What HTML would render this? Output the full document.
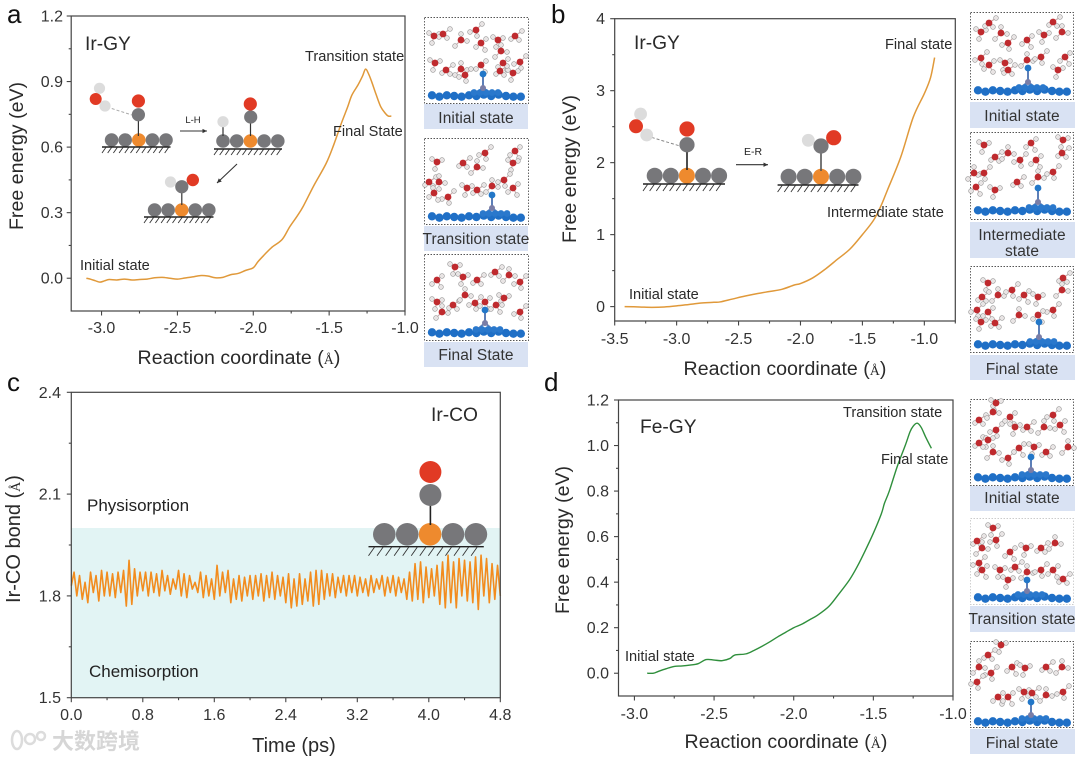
<!DOCTYPE html>
<html lang="en">
<head>
<meta charset="utf-8">
<title>Free energy profiles</title>
<style>
html,body{margin:0;padding:0;background:#fff;width:1080px;height:760px;overflow:hidden}
svg{display:block;filter:blur(.35px)}
text{font-family:"Liberation Sans","Noto Sans CJK SC",sans-serif;fill:#222}
.tick{font-size:16px;fill:#333}
.axt{font-size:19.6px;fill:#2a2a2a}
.ann{font-size:14.6px;fill:#2a2a2a}
.ttl{font-size:19.2px;fill:#2a2a2a}
.plab{font-size:26px;fill:#111}
.chip{font-size:15.5px;fill:#333;text-anchor:middle;letter-spacing:.1px}
.ser{font-family:"Liberation Serif",serif;font-size:14px}
</style>
</head>
<body>
<svg id="fig" xmlns="http://www.w3.org/2000/svg" width="1080" height="760" viewBox="0 0 1080 760">
  <rect id="cBand" fill="#e2f4f4"/>
  <g id="marks"></g>
  <g id="art"></g>
  <g id="chips"></g>

  <text class="plab" x="7" y="23">a</text>
  <text class="plab" x="551" y="23">b</text>
  <text class="plab" x="7" y="391">c</text>
  <text class="plab" x="544" y="391">d</text>

  <text class="ttl" x="85" y="50">Ir-GY</text>
  <text class="ann" x="305" y="61">Transition state</text>
  <text class="ann" x="333" y="136">Final State</text>
  <text class="ann" x="80" y="270">Initial state</text>
  <text x="193" y="123" font-size="9.5" text-anchor="middle">L-H</text>
  <text class="axt" x="239" y="364" text-anchor="middle">Reaction coordinate (<tspan class="ser">Å</tspan>)</text>
  <text class="axt" transform="translate(23,156) rotate(-90)" text-anchor="middle">Free energy (eV)</text>

  <text class="ttl" x="634" y="49">Ir-GY</text>
  <text class="ann" x="885" y="49">Final state</text>
  <text class="ann" x="827" y="217">Intermediate state</text>
  <text class="ann" x="629" y="299">Initial state</text>
  <text x="753" y="155" font-size="10.5" text-anchor="middle">E-R</text>
  <text class="axt" x="785" y="375" text-anchor="middle">Reaction coordinate (<tspan class="ser">Å</tspan>)</text>
  <text class="axt" transform="translate(576,169) rotate(-90)" text-anchor="middle">Free energy (eV)</text>

  <text class="ttl" x="431" y="421">Ir-CO</text>
  <text x="87" y="511" font-size="17" fill="#2a2a2a">Physisorption</text>
  <text x="89" y="677" font-size="17" fill="#2a2a2a">Chemisorption</text>
  <text class="axt" x="294" y="752" text-anchor="middle" style="font-size:20px">Time (ps)</text>
  <text class="axt" style="font-size:20px" transform="translate(20,539) rotate(-90)" text-anchor="middle">Ir-CO bond (<tspan class="ser">Å</tspan>)</text>

  <text class="ttl" x="640" y="433">Fe-GY</text>
  <text class="ann" x="843" y="417">Transition state</text>
  <text class="ann" x="881" y="464">Final state</text>
  <text class="ann" x="625" y="661">Initial state</text>
  <text class="axt" x="786" y="748" text-anchor="middle">Reaction coordinate (<tspan class="ser">Å</tspan>)</text>
  <text class="axt" transform="translate(569,540) rotate(-90)" text-anchor="middle">Free energy (eV)</text>

  <g>
    <ellipse cx="17" cy="740" rx="5" ry="9" fill="none" stroke="#dcdcdc" stroke-width="2.5"/>
    <circle cx="30" cy="739" r="5" fill="none" stroke="#dcdcdc" stroke-width="2.5"/>
    <circle cx="41" cy="736" r="4" fill="none" stroke="#dcdcdc" stroke-width="2.5"/>
    <text x="52" y="749" style="font-family:'Noto Sans CJK SC',sans-serif;font-size:22px;font-weight:700;fill:#d6d6d6">大数跨境</text>
  </g>
</svg>

<script>
/* ---------- chart data ---------- */
const aEnergyX = [-3.10,-3.07,-3.04,-3.01,-2.98,-2.95,-2.90,-2.85,-2.80,-2.75,-2.70,-2.65,-2.60,-2.55,-2.50,-2.45,-2.40,-2.35,-2.30,-2.25,-2.20,-2.15,-2.10,-2.05,-2.00,-1.97,-1.93,-1.88,-1.81,-1.76,-1.71,-1.67,-1.60,-1.52,-1.47,-1.42,-1.38,-1.35,-1.31,-1.28,-1.26,-1.24,-1.22,-1.19,-1.16,-1.13,-1.11,-1.09];
const aEnergyY = [0.00,-0.005,-0.012,-0.018,-0.012,-0.006,-0.008,-0.004,-0.008,-0.006,-0.004,0.002,0.004,0.000,-0.004,0.001,0.006,0.012,0.010,0.002,0.004,0.016,0.022,0.036,0.048,0.075,0.105,0.140,0.177,0.235,0.285,0.330,0.425,0.525,0.610,0.708,0.780,0.838,0.884,0.925,0.957,0.935,0.900,0.840,0.785,0.755,0.742,0.742];
const aXTickLabels = ['-3.0','-2.5','-2.0','-1.5','-1.0'];
const aXMinor = [-2.75,-2.25,-1.75,-1.25];
const aYTickLabels = ['0.0','0.3','0.6','0.9','1.2'];
const aYMinor = [0.15,0.45,0.75,1.05];

const bEnergyX = [-3.42,-3.30,-3.20,-3.10,-3.00,-2.90,-2.80,-2.70,-2.65,-2.55,-2.45,-2.35,-2.25,-2.15,-2.05,-2.00,-1.90,-1.80,-1.70,-1.60,-1.50,-1.41,-1.35,-1.30,-1.19,-1.09,-1.00,-0.95,-0.917];
const bEnergyY = [0.00,-0.005,-0.01,-0.005,0.01,0.03,0.05,0.06,0.065,0.105,0.145,0.18,0.21,0.24,0.30,0.32,0.40,0.52,0.66,0.80,1.00,1.20,1.40,1.61,2.08,2.63,2.96,3.18,3.46];
const bXTickLabels = ['-3.5','-3.0','-2.5','-2.0','-1.5','-1.0'];
const bXMinor = [-3.25,-2.75,-2.25,-1.75,-1.25,-0.75];
const bYTickLabels = ['0','1','2','3','4'];
const bYMinor = [0.5,1.5,2.5,3.5];

const cBondLength = [
1.83,1.87,1.80,1.86,1.79,1.84,1.78,1.87,1.81,1.86,1.785,1.875,1.80,
1.87,1.80,1.865,1.795,1.87,1.81,1.875,1.77,1.905,1.775,1.88,1.80,1.87,
1.815,1.87,1.80,1.87,1.81,1.865,1.80,1.875,1.815,1.86,1.805,1.85,1.82,
1.875,1.80,1.865,1.795,1.86,1.82,1.84,1.81,1.87,1.795,1.86,1.80,1.85,
1.79,1.89,1.80,1.87,1.81,1.875,1.78,1.85,1.79,1.86,1.785,1.855,1.80,
1.86,1.79,1.86,1.80,1.865,1.785,1.86,1.795,1.87,1.79,1.86,1.80,1.855,
1.78,1.865,1.765,1.85,1.77,1.865,1.775,1.85,1.785,1.87,1.77,1.875,1.775,
1.875,1.79,1.865,1.80,1.865,1.795,1.855,1.81,1.86,1.80,1.86,1.81,1.86,
1.80,1.855,1.81,1.85,1.80,1.86,1.81,1.85,1.82,1.86,1.80,1.855,1.81,
1.86,1.80,1.855,1.81,1.85,1.79,1.87,1.785,1.895,1.79,1.90,1.78,1.885,
1.795,1.88,1.80,1.89,1.775,1.90,1.765,1.92,1.78,1.90,1.765,1.91,1.80,
1.905,1.785,1.90,1.78,1.915,1.76,1.92,1.80,1.91,1.78,1.895,1.79,1.89,1.80];
const cTotalTime = 4.8;
const cBandTop = 2.0;
const cXTickLabels = ['0.0','0.8','1.6','2.4','3.2','4.0','4.8'];
const cXMinor = [0.4,1.2,2.0,2.8,3.6,4.4];
const cYTickLabels = ['1.5','1.8','2.1','2.4'];
const cYMinor = [1.65,1.95,2.25];

const dEnergyX = [-2.92,-2.88,-2.85,-2.80,-2.75,-2.70,-2.65,-2.60,-2.55,-2.50,-2.45,-2.40,-2.37,-2.30,-2.25,-2.20,-2.15,-2.10,-2.05,-2.00,-1.95,-1.90,-1.85,-1.78,-1.72,-1.65,-1.60,-1.55,-1.50,-1.45,-1.43,-1.40,-1.35,-1.30,-1.27,-1.25,-1.225,-1.20,-1.17,-1.136];
const dEnergyY = [0.00,0.00,0.008,0.02,0.03,0.032,0.036,0.042,0.06,0.058,0.055,0.065,0.08,0.085,0.10,0.118,0.138,0.16,0.18,0.20,0.215,0.235,0.255,0.293,0.345,0.41,0.47,0.54,0.615,0.70,0.747,0.80,0.908,1.00,1.06,1.085,1.098,1.08,1.035,0.988];
const dXTickLabels = ['-3.0','-2.5','-2.0','-1.5','-1.0'];
const dXMinor = [-2.75,-2.25,-1.75,-1.25];
const dYTickLabels = ['0.0','0.2','0.4','0.6','0.8','1.0','1.2'];
const dYMinor = [0.1,0.3,0.5,0.7,0.9,1.1];

/* ---------- helpers ---------- */
const NS = 'http://www.w3.org/2000/svg';
const marks = document.getElementById('marks');
const art = document.getElementById('art');
const chips = document.getElementById('chips');
function el(tag, parent){ const e = document.createElementNS(NS, tag); parent.appendChild(e); return e; }
function scale(d0,d1,r0,r1){ return v => r0 + (v-d0)*(r1-r0)/(d1-d0); }

function drawAxes(id, sx, sy, box, xLabels, xMinor, yLabels, yMinor, xBase, yRight){
  const g = el('g', marks);
  
  
  const f = el('rect', g);
  
  
  f.setAttribute('x', box.l); f.setAttribute('y', box.t);
  f.setAttribute('width', box.r-box.l); f.setAttribute('height', box.b-box.t);
  f.setAttribute('fill', 'none'); f.setAttribute('stroke', '#444'); f.setAttribute('stroke-width', '1.2');
  function tick(x1,y1,x2,y2,name){
    const t = el('line', g);
    
    
    t.setAttribute('x1',x1); t.setAttribute('y1',y1); t.setAttribute('x2',x2); t.setAttribute('y2',y2);
    t.setAttribute('stroke','#444'); t.setAttribute('stroke-width','1.1');
  }
  xLabels.forEach(s => {
    const x = sx(parseFloat(s));
    tick(x, box.b, x, box.b+4.5, id + '-x-tick');
    const t = el('text', g);
    
    
    t.setAttribute('class','tick'); t.setAttribute('x',x); t.setAttribute('y',xBase); t.setAttribute('text-anchor','middle');
    t.textContent = s;
  });
  xMinor.forEach(v => tick(sx(v), box.b, sx(v), box.b+2.5, id + '-x-minor-tick'));
  yLabels.forEach(s => {
    const y = sy(parseFloat(s));
    tick(box.l, y, box.l-4.5, y, id + '-y-tick');
    const t = el('text', g);
    
    
    t.setAttribute('class','tick'); t.setAttribute('x',yRight); t.setAttribute('y',y+5.5); t.setAttribute('text-anchor','end');
    t.textContent = s;
  });
  yMinor.forEach(v => tick(box.l, sy(v), box.l-2.5, sy(v), id + '-y-minor-tick'));
}

function drawLine(id, xs, ys, sx, sy, color, width){
  const p = el('polyline', marks);
  
  
  p.setAttribute('points', xs.map((x,i) => sx(x).toFixed(2)+','+sy(ys[i]).toFixed(2)).join(' '));
  p.setAttribute('fill','none'); p.setAttribute('stroke',color); p.setAttribute('stroke-width',width);
  p.setAttribute('stroke-linejoin','round');
}

/* smooth curve through the data nodes */
function drawCurve(id, xs, ys, sx, sy, color, width){
  const P = xs.map((x,i) => [sx(x), sy(ys[i])]);
  let d = 'M' + P[0][0].toFixed(2) + ' ' + P[0][1].toFixed(2);
  for(let i=0;i<P.length-1;i++){
    const a = P[Math.max(i-1,0)], b = P[i], c = P[i+1], e = P[Math.min(i+2,P.length-1)];
    d += 'C' + (b[0]+(c[0]-a[0])/6).toFixed(2) + ' ' + (b[1]+(c[1]-a[1])/6).toFixed(2) + ' '
       + (c[0]-(e[0]-b[0])/6).toFixed(2) + ' ' + (c[1]-(e[1]-b[1])/6).toFixed(2) + ' '
       + c[0].toFixed(2) + ' ' + c[1].toFixed(2);
  }
  const p = el('path', marks);
  
  
  p.setAttribute('d', d);
  p.setAttribute('fill','none'); p.setAttribute('stroke',color); p.setAttribute('stroke-width',width);
}

/* ---------- panels ---------- */
const boxA = {l:71.2,r:405,t:16,b:311};
const axA = scale(-3.2,-1.0,boxA.l,boxA.r), ayA = scale(-0.15,1.2,boxA.b,boxA.t);
const boxB = {l:614.7,r:955.3,t:18.7,b:321};
const axB = scale(-3.5,-0.75,boxB.l,boxB.r), ayB = scale(-0.2,4,boxB.b,boxB.t);
const boxC = {l:71.3,r:500.3,t:392.3,b:697.7};
const axC = scale(0,cTotalTime,boxC.l,boxC.r), ayC = scale(1.5,2.4,boxC.b,boxC.t);
const boxD = {l:618.5,r:953,t:400,b:696};
const axD = scale(-3.1,-1.0,boxD.l,boxD.r), ayD = scale(-0.1,1.2,boxD.b,boxD.t);

const band = document.getElementById('cBand');
band.setAttribute('x', boxC.l); band.setAttribute('width', boxC.r-boxC.l);
band.setAttribute('y', ayC(cBandTop)); band.setAttribute('height', boxC.b-ayC(cBandTop));

drawCurve('free-energy-curve-a', aEnergyX, aEnergyY, axA, ayA, '#e0993a', 1.5);
drawCurve('free-energy-curve-b', bEnergyX, bEnergyY, axB, ayB, '#e0993a', 1.5);
const cTimes = cBondLength.map((v,i) => i*cTotalTime/(cBondLength.length-1));
drawLine('bond-length-trace-c', cTimes, cBondLength, axC, ayC, '#f28c1e', 1.6);
drawCurve('free-energy-curve-d', dEnergyX, dEnergyY, axD, ayD, '#2f8f3c', 1.4);

drawAxes('panel-a', axA, ayA, boxA, aXTickLabels, aXMinor, aYTickLabels, aYMinor, 333, 63);
drawAxes('panel-b', axB, ayB, boxB, bXTickLabels, bXMinor, bYTickLabels, bYMinor, 344, 605);
drawAxes('panel-c', axC, ayC, boxC, cXTickLabels, cXMinor, cYTickLabels, cYMinor, 720, 61);
drawAxes('panel-d', axD, ayD, boxD, dXTickLabels, dXMinor, dYTickLabels, dYMinor, 719, 609);

/* ---------- reaction schematics ---------- */
function atom(x,y,r,fill,name){
  const c = el('circle', art);
  
  
  c.setAttribute('cx',x); c.setAttribute('cy',y); c.setAttribute('r',r); c.setAttribute('fill',fill);
}
function stick(x1,y1,x2,y2,color,w,dash,name){
  const l = el('line', art);
  
  
  l.setAttribute('x1',x1); l.setAttribute('y1',y1); l.setAttribute('x2',x2); l.setAttribute('y2',y2);
  l.setAttribute('stroke',color); l.setAttribute('stroke-width',w);
  if(dash) l.setAttribute('stroke-dasharray',dash);
}
function surface(x0,step,y,r,bx0,bx1,by,h){
  for(let i=0;i<5;i++){
    atom(x0+i*step, y, r, i===2?'#ee8a2e':'#77777a', i===2?'metal-atom':'graphyne-atom');
  }
  stick(bx0,by,bx1,by,'#222',1.4,null,'surface-line');
  for(let x=bx0+h*0.7;x<=bx1;x+=h*0.95){
    stick(x,by,x-h*0.7,by+h,'#333',0.9,null,'surface-hatch');
  }
}
function arrow(x1,y1,x2,y2,name){
  stick(x1,y1,x2,y2,'#333',1.1,null,name);
  const a = Math.atan2(y2-y1,x2-x1), s=5;
  const p = el('polygon', art);
  
  
  p.setAttribute('points',[x2,y2,x2-s*Math.cos(a-0.45),y2-s*Math.sin(a-0.45),x2-s*Math.cos(a+0.45),y2-s*Math.sin(a+0.45)].join(','));
  p.setAttribute('fill','#333');
}
const RED='#e13a24', CG='#77777a', HL='#dcdcdc';
/* panel a */
surface(111.6,13.6,140,6.8,102,170.5,147,6);
stick(138.4,120,138.4,136,'#333',1.2,null,'co-bond');
atom(138.4,114.7,6.6,CG,'carbon-atom'); atom(138.4,101,6.6,RED,'oxygen-atom');
stick(107,107,132,115,'#aaa',1,'3 2','hydrogen-bond');
atom(99.5,88.3,5.6,HL,'hydrogen-atom'); atom(105,106,5.6,HL,'hydrogen-atom'); atom(95.7,99,6,RED,'oxygen-atom');
arrow(180,131,207,131,'lh-arrow');
surface(223,13.7,141,6.8,214,282,149,6);
stick(250.5,123,250.5,136,'#333',1.2,null,'co-bond');
stick(223,126,223,136,'#333',1.2,null,'oh-bond');
atom(250.7,117,6.6,CG,'carbon-atom'); atom(250.3,104,6.6,RED,'oxygen-atom'); atom(223,121.7,5.6,HL,'hydrogen-atom');
arrow(237,164,217,183,'step-arrow');
surface(154.6,13.55,210,6.8,144,213.5,217,6);
stick(181.8,192,181.8,205,'#333',1.2,null,'cooh-bond');
atom(170.5,182,5.6,HL,'hydrogen-atom'); atom(181.8,186.7,6.6,CG,'carbon-atom'); atom(192.8,180,6.2,RED,'oxygen-atom');
/* panel b */
surface(654.7,16.1,175.7,8,643,725,184,7);
stick(687,150,687,170,'#222',1.6,null,'co-bond');
stick(647,136,680,146,'#888',1,'3 2','hydrogen-bond');
atom(687,144.7,7.6,CG,'carbon-atom'); atom(687,129,7.6,RED,'oxygen-atom');
atom(640.6,114,6.4,HL,'hydrogen-atom'); atom(646.7,135,6.4,HL,'hydrogen-atom'); atom(636,126.3,7,RED,'oxygen-atom');
arrow(736,164.7,768,164.7,'er-arrow');
surface(788.6,16.2,176.7,8,777.6,858.5,185,7);
stick(821,151,821,171,'#555',1.6,null,'cooh-bond');
atom(808.3,140.3,6.4,HL,'hydrogen-atom'); atom(821,146,7.6,CG,'carbon-atom'); atom(833.7,137.7,7.6,RED,'oxygen-atom');
/* panel c */
surface(384.3,22.9,534.3,11.3,368.5,483.8,546.7,9);
stick(430.4,505,430.4,525,'#222',1.6,null,'co-bond');
atom(430.4,495,11,CG,'carbon-atom'); atom(430.4,472,11,RED,'oxygen-atom');

/* ---------- MD snapshot thumbnails ---------- */
const snapshotWaters = [
 [[10,19],[19,17],[37,23],[52,13],[57,26],[74,23],[91,19],[77,34],[96,45],[79,46],[11,46],[22,53],[37,52],[41,58],[57,48],[89,56],[76,54]],
 [[13,24],[39,25],[53,29],[61,15],[91,13],[89,25],[5,44],[15,44],[24,59],[10,55],[43,50],[53,52],[68,48],[80,42],[89,50]],
 [[31,13],[71,18],[85,21],[96,28],[13,26],[39,23],[53,26],[41,41],[51,49],[61,48],[13,48],[29,51],[18,58],[96,58],[72,51],[80,44]],
 [[11,20],[19,11],[31,21],[38,31],[57,28],[74,23],[83,10],[92,20],[11,46],[19,53],[35,51],[38,58],[57,48],[71,45],[95,45],[88,58]],
 [[14,13],[25,25],[38,21],[50,28],[61,11],[93,8],[92,21],[4,41],[14,41],[6,55],[25,58],[47,50],[68,45],[83,40],[66,28]],
 [[18,17],[12,31],[28,29],[42,24],[54,29],[68,31],[93,12],[92,24],[7,44],[18,46],[11,56],[25,57],[49,49],[83,44],[68,49]],
 [[26,4],[9,21],[23,13],[26,31],[40,18],[45,28],[57,28],[74,28],[83,16],[90,26],[18,41],[9,44],[23,53],[38,59],[49,49],[64,48],[76,53],[98,48]],
 [[23,10],[7,23],[12,30],[26,22],[40,34],[56,30],[71,30],[85,25],[9,45],[12,52],[30,52],[45,49],[57,54],[71,52],[83,52],[38,62],[93,61]],
 [[31,4],[18,14],[9,26],[21,32],[42,26],[55,27],[76,26],[92,26],[7,41],[28,56],[54,51],[62,52],[76,54],[93,51],[38,56]]
];
const snapshotBoxes = [
 [424,17,104,86,59,57,71,79],[424,138,104,86,68,57,70,79],[424,254,104,86,61,56,69,79],
 [970,12,103,87,58,56,70,79],[970,132,103,87,68,56,70,79],[970,266,103,86,69,56,71,79],
 [970,399,103,86,61,58,71,79],[970,518,103,86,57,62,73,80],[970,641,103,86,61,61,74,81]
];
const whiteOffsets = [[[-5,-3],[5,-2],[-2,7]],[[4,4],[-4,3],[7,-5]],[[6,1],[0,-6],[-6,6]],[[-6,2],[1,6],[6,-6]],[[5,-4],[-5,4],[4,7]]];
const rowOffsets = [-1,1,-1,0,1,-1,0,-2,0,-2,0,1,1];

snapshotBoxes.forEach((b,k) => {
  const g = el('g', chips);
  
  
  g.setAttribute('transform', 'translate('+b[0]+','+b[1]+')');
  const r = el('rect', g);
  
  
  r.setAttribute('x',0.5); r.setAttribute('y',0.5); r.setAttribute('width',b[2]); r.setAttribute('height',b[3]);
  r.setAttribute('fill','#fff'); r.setAttribute('stroke',k===7?'#ccc':'#555'); r.setAttribute('stroke-width','0.9'); r.setAttribute('stroke-dasharray','1.5 1.5');
  snapshotWaters[k].forEach((w,i) => {
    whiteOffsets[i%5].forEach(o => {
      const bond = el('line', g);
      
      
      bond.setAttribute('x1', w[0]); bond.setAttribute('y1', w[1]);
      bond.setAttribute('x2', w[0]+o[0]); bond.setAttribute('y2', w[1]+o[1]);
      bond.setAttribute('stroke','#c9a9a9'); bond.setAttribute('stroke-width','1.1');
      const h = el('circle', g);
      
      
      h.setAttribute('cx', w[0]+o[0]); h.setAttribute('cy', w[1]+o[1]); h.setAttribute('r', 2.4);
      h.setAttribute('fill','#e8e4e4'); h.setAttribute('stroke','#999'); h.setAttribute('stroke-width','0.6');
    });
  });
  snapshotWaters[k].forEach(w => {
    const o = el('circle', g);
    
    
    o.setAttribute('cx', w[0]); o.setAttribute('cy', w[1]); o.setAttribute('r', 3.4);
    o.setAttribute('fill','#bf2a2e');
  });
  const st = el('path', g);
  
  
  st.setAttribute('d','M'+b[4]+' '+b[5]+'L'+b[4]+' '+b[6]+'L'+(b[4]-12)+' '+b[7]+'M'+b[4]+' '+b[6]+'L'+(b[4]+12)+' '+b[7]);
  st.setAttribute('stroke','#5d7fb8'); st.setAttribute('stroke-width','2'); st.setAttribute('fill','none');
  rowOffsets.forEach((dy,i) => {
    const c = el('circle', g);
    
    
    c.setAttribute('cx', 8+i*7.4); c.setAttribute('cy', b[7]+dy*0.7); c.setAttribute('r', 4.2);
    c.setAttribute('fill','#1f6fc6');
  });
  [-9,-3,3,9,15].forEach(dx => {
    const c = el('circle', g);
    
    
    c.setAttribute('cx', b[4]+dx); c.setAttribute('cy', b[7]-3.5); c.setAttribute('r', 3.4);
    c.setAttribute('fill','#2a78cc');
  });
  const m = el('circle', g);
  
  
  m.setAttribute('cx', b[4]); m.setAttribute('cy', b[6]); m.setAttribute('r', 3);
  m.setAttribute('fill','#7a7da6');
  const ad = el('circle', g);
  
  
  ad.setAttribute('cx', b[4]); ad.setAttribute('cy', b[5]); ad.setAttribute('r', 3.4);
  ad.setAttribute('fill','#2277c8');
});

const chipRects = [[424,104,104,25],[424,226,104,25],[424,342,104,25],[970,102,105,26],[970,222,105,36],[970,355,105,25],[970,486,105,25],[970,606,105,26],[970,729,105,25]];
const chipLabels = [['Initial state',476,123],['Transition state',476,244],['Final State',476,360],['Initial state',1022,121],['Intermediate',1022,240],['state',1022,256],['Final state',1022,374],['Initial state',1022,503],['Transition state',1022,624],['Final state',1022,748]];
chipRects.forEach(c => {
  const r = el('rect', chips);
  
  
  r.setAttribute('x',c[0]); r.setAttribute('y',c[1]); r.setAttribute('width',c[2]); r.setAttribute('height',c[3]);
  r.setAttribute('fill','#d9e2f3');
});
chipLabels.forEach(c => {
  const t = el('text', chips);
  
  
  t.setAttribute('class','chip'); t.setAttribute('x',c[1]); t.setAttribute('y',c[2]);
  t.textContent = c[0];
});
</script>
</body>
</html>
